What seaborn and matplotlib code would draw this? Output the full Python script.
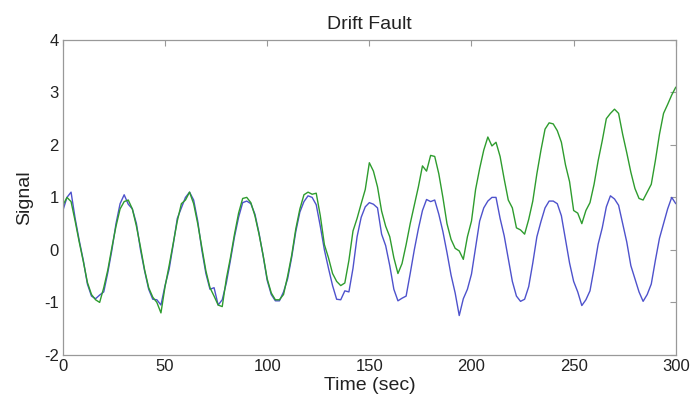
import numpy as np
import pandas as pd
from matplotlib import pyplot as plt
import seaborn as sns

# time axis, one sample every 2 s
time_sec = np.arange(0, 301, 2)

# normal sensor (blue)
signal_normal = [
    0.75, 1.0, 1.1, 0.6, 0.18, -0.2, -0.65, -0.88, -0.93, -0.86,
    -0.8, -0.43, 0.0, 0.5, 0.88, 1.05, 0.87, 0.78, 0.5, 0.0,
    -0.4, -0.75, -0.94, -0.95, -1.05, -0.68, -0.37, 0.1, 0.6, 0.8,
    1.0, 1.1, 0.95, 0.55, 0.0, -0.45, -0.75, -0.72, -1.05, -0.95,
    -0.63, -0.2, 0.25, 0.62, 0.9, 0.93, 0.88, 0.68, 0.32, -0.11,
    -0.58, -0.85, -0.97, -0.97, -0.8, -0.55, -0.14, 0.35, 0.72, 0.92,
    1.03, 1.0, 0.86, 0.45, 0.0, -0.35, -0.68, -0.94, -0.95, -0.78,
    -0.8, -0.35, 0.25, 0.62, 0.82, 0.9, 0.87, 0.8, 0.3, 0.08,
    -0.3, -0.75, -0.97, -0.92, -0.88, -0.45, 0.0, 0.4, 0.75, 0.96,
    0.92, 0.95, 0.68, 0.35, -0.05, -0.48, -0.82, -1.25, -0.93, -0.75,
    -0.46, 0.05, 0.55, 0.8, 0.93, 1.0, 1.0, 0.6, 0.27, -0.17,
    -0.6, -0.88, -0.98, -0.94, -0.7, -0.25, 0.25, 0.54, 0.8, 0.93,
    0.93, 0.88, 0.65, 0.2, -0.25, -0.6, -0.8, -1.06, -0.95, -0.78,
    -0.35, 0.11, 0.42, 0.82, 1.03, 0.97, 0.85, 0.5, 0.15, -0.3,
    -0.55, -0.8, -0.98, -0.85, -0.65, -0.2, 0.22, 0.5, 0.78, 1.0,
    0.88,
]

# drifting sensor (green)
signal_drift = [
    0.85, 1.0, 0.92, 0.55, 0.15, -0.22, -0.62, -0.85, -0.95, -1.0,
    -0.72, -0.38, 0.05, 0.45, 0.78, 0.92, 0.95, 0.78, 0.45, 0.05,
    -0.38, -0.72, -0.9, -1.0, -1.2, -0.7, -0.3, 0.12, 0.55, 0.88,
    0.95, 1.1, 0.88, 0.5, 0.05, -0.4, -0.72, -0.88, -1.05, -1.08,
    -0.55, -0.15, 0.3, 0.7, 0.98, 1.0, 0.9, 0.65, 0.3, -0.1,
    -0.55, -0.82, -0.95, -0.95, -0.85, -0.5, -0.1, 0.4, 0.78, 1.05,
    1.1, 1.06, 1.08, 0.65, 0.1, -0.15, -0.45, -0.6, -0.68, -0.63,
    -0.2, 0.36, 0.6, 0.88, 1.15, 1.66, 1.5, 1.2, 0.74, 0.45,
    0.25, -0.15, -0.45, -0.26, 0.1, 0.5, 0.85, 1.2, 1.6, 1.5,
    1.8, 1.78, 1.45, 1.0, 0.5, 0.2, 0.03, -0.02, -0.18, 0.25,
    0.55, 1.15, 1.55, 1.9, 2.15, 1.98, 2.05, 1.78, 1.35, 0.95,
    0.8, 0.42, 0.38, 0.3, 0.58, 0.93, 1.45, 1.9, 2.3, 2.42,
    2.4, 2.27, 2.05, 1.62, 1.3, 0.75, 0.7, 0.5, 0.75, 0.9,
    1.25, 1.7, 2.08, 2.5, 2.6, 2.68, 2.6, 2.2, 1.85, 1.48,
    1.17, 0.98, 0.95, 1.1, 1.25, 1.7, 2.2, 2.6, 2.77, 2.95,
    3.1,
]

df = pd.DataFrame({'t': time_sec, 'normal': signal_normal, 'drift': signal_drift})

sns.set_style('white')
plt.rcParams['font.family'] = ['Liberation Sans', 'DejaVu Sans']
plt.rcParams['axes.unicode_minus'] = False   # plain hyphen like the original
plt.rcParams['xtick.direction'] = 'in'
plt.rcParams['ytick.direction'] = 'in'

fig = plt.figure(figsize=(6.91, 4.07), dpi=100)
ax = fig.add_axes([0.091, 0.128, 0.887, 0.774])

sns.lineplot(data=df, x='t', y='normal', color='#4e52cc', linewidth=1.0, ax=ax)
sns.lineplot(data=df, x='t', y='drift', color='#2e9c2e', linewidth=1.0, ax=ax)

ax.set_xlim(0, 300)
ax.set_ylim(-2, 4)
ax.set_xticks([0, 50, 100, 150, 200, 250, 300])
ax.set_yticks([-2, -1, 0, 1, 2, 3, 4])
ax.tick_params(top=True, right=True, length=4, width=0.8, color='#999999',
               labelsize=12, labelcolor='#222222', pad=3)
for sp in ax.spines.values():
    sp.set_color('#999999')
    sp.set_linewidth(0.9)

ax.set_xlabel('Time (sec)', fontsize=14, color='#222222', labelpad=2)
ax.set_ylabel('Signal', fontsize=14, color='#222222', labelpad=8)
ax.set_title('Drift Fault', fontsize=14, color='#222222', pad=8)

plt.savefig('out.png', dpi=100)
